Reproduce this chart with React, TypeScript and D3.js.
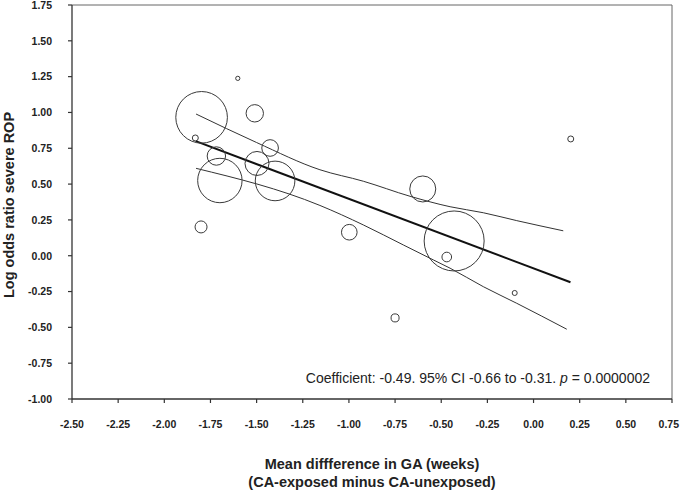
import React from "react";
import * as d3 from "d3";

// Study bubbles: mean GA difference, log odds ratio, relative weight
const studyX = [-1.602, -1.798, -1.510, -1.832, -1.427, -1.718, -1.498, -1.699, -1.400, -1.801, -0.998, -0.600, -0.430, -0.470, -0.102, -0.750, 0.2015];
const studyY = [1.238, 0.966, 0.994, 0.822, 0.752, 0.696, 0.644, 0.525, 0.522, 0.201, 0.164, 0.466, 0.103, -0.009, -0.260, -0.434, 0.815];
const studyW = [0.5, 74, 8.4, 1.0, 7.7, 9.4, 16, 54.8, 43.6, 4.0, 6.8, 18.8, 100, 2.6, 0.7, 1.8, 1.0];

// Meta-regression line
const fitX = [-1.83, 0.2];
const fitY = [0.8, -0.185];

// 95% CI bands
const upperX = [-1.828, -1.5, -1.157, -0.922, -0.669, -0.452, -0.272, -0.091, 0.161];
const upperY = [0.989, 0.79, 0.60, 0.52, 0.415, 0.342, 0.30, 0.245, 0.174];
const lowerX = [-1.828, -1.157, -0.922, -0.705, -0.543, -0.452, -0.272, -0.091, 0.18];
const lowerY = [0.61, 0.351, 0.215, 0.075, -0.029, -0.087, -0.216, -0.332, -0.513];

const xTicks = [-2.5, -2.25, -2.0, -1.75, -1.5, -1.25, -1.0, -0.75, -0.5, -0.25, 0.0, 0.25, 0.5, 0.75];
const yTicks = [-1.0, -0.75, -0.5, -0.25, 0.0, 0.25, 0.5, 0.75, 1.0, 1.25, 1.5, 1.75];

const xTitle1 = "Mean diffference in GA (weeks)";
const xTitle2 = "(CA-exposed minus CA-unexposed)";
const yTitle = "Log odds ratio severe ROP";

export default function App() {
  const W = 680, H = 492;
  const x = d3.scaleLinear().domain([-2.5, 0.75]).range([72, 672]);
  const y = d3.scaleLinear().domain([-1, 1.75]).range([399, 5]);
  const r = d3.scaleSqrt().domain([0, 100]).range([0, 30]);
  const font = "Arial, 'Liberation Sans', Helvetica, sans-serif";

  const line = d3
    .line<[number, number]>()
    .x((d) => x(d[0]))
    .y((d) => y(d[1]))
    .curve(d3.curveMonotoneX);

  const upper = line(upperX.map((v, i) => [v, upperY[i]]) as [number, number][]) || "";
  const lower = line(lowerX.map((v, i) => [v, lowerY[i]]) as [number, number][]) || "";
  const fit = line(fitX.map((v, i) => [v, fitY[i]]) as [number, number][]) || "";

  const [x0, x1] = x.range();
  const [y0, y1] = y.range();

  return (
    <svg
      width={W}
      height={H}
      viewBox={`0 0 ${W} ${H}`}
      style={{ position: "absolute", left: 0, top: 0, background: "#fff" }}
      fontFamily={font}
    >
      <rect x={0} y={0} width={W} height={H} fill="#fff" />
      {/* frame */}
      <line x1={x0} y1={y1} x2={x1} y2={y1} stroke="#666" strokeWidth={1} />
      <line x1={x1} y1={y1} x2={x1} y2={y0} stroke="#666" strokeWidth={1} />
      <line x1={x0} y1={y0} x2={x1} y2={y0} stroke="#333" strokeWidth={1.3} />
      <line x1={x0} y1={y0} x2={x0} y2={y1} stroke="#333" strokeWidth={1.3} />

      {/* y ticks */}
      {yTicks.map((t) => (
        <g key={"y" + t}>
          <line x1={x0 - 4} x2={x0} y1={y(t)} y2={y(t)} stroke="#333" strokeWidth={1.2} />
          <text
            x={52}
            y={y(t)}
            dy="0.36em"
            textAnchor="end"
            fontSize={10.5}
            fontWeight="bold"
            fill="#222"
          >
            {t.toFixed(2)}
          </text>
        </g>
      ))}

      {/* x ticks */}
      {xTicks.map((t, i) => {
        const last = i === xTicks.length - 1;
        return (
          <g key={"x" + t}>
            <line x1={x(t)} x2={x(t)} y1={y0} y2={y0 + 4} stroke="#333" strokeWidth={1.2} />
            <text
              x={last ? W - 1 : x(t)}
              y={428}
              textAnchor={last ? "end" : "middle"}
              fontSize={10.5}
              fontWeight="bold"
              fill="#222"
            >
              {t.toFixed(2)}
            </text>
          </g>
        );
      })}

      {/* CI lines */}
      <path d={upper} fill="none" stroke="#333" strokeWidth={1} />
      <path d={lower} fill="none" stroke="#333" strokeWidth={1} />
      {/* fit line */}
      <path d={fit} fill="none" stroke="#111" strokeWidth={2} />

      {/* bubbles */}
      {studyX.map((v, i) => (
        <circle
          key={"c" + i}
          cx={x(v)}
          cy={y(studyY[i])}
          r={Math.max(2, r(studyW[i]))}
          fill="none"
          stroke="#3a3a3a"
          strokeWidth={1}
        />
      ))}

      {/* annotation */}
      <text x={650} y={383} textAnchor="end" fontSize={14} fill="#222">
        Coefficient: -0.49. 95% CI -0.66 to -0.31. <tspan fontStyle="italic">p</tspan> = 0.0000002
      </text>

      {/* axis titles */}
      <text x={372} y={469} textAnchor="middle" fontSize={14.5} fontWeight="bold" fill="#222">
        {xTitle1}
      </text>
      <text x={372} y={487} textAnchor="middle" fontSize={14.5} fontWeight="bold" fill="#222">
        {xTitle2}
      </text>
      <text
        transform={`translate(14, 205) rotate(-90)`}
        textAnchor="middle"
        fontSize={14.5}
        fontWeight="bold"
        fill="#222"
      >
        {yTitle}
      </text>
    </svg>
  );
}
